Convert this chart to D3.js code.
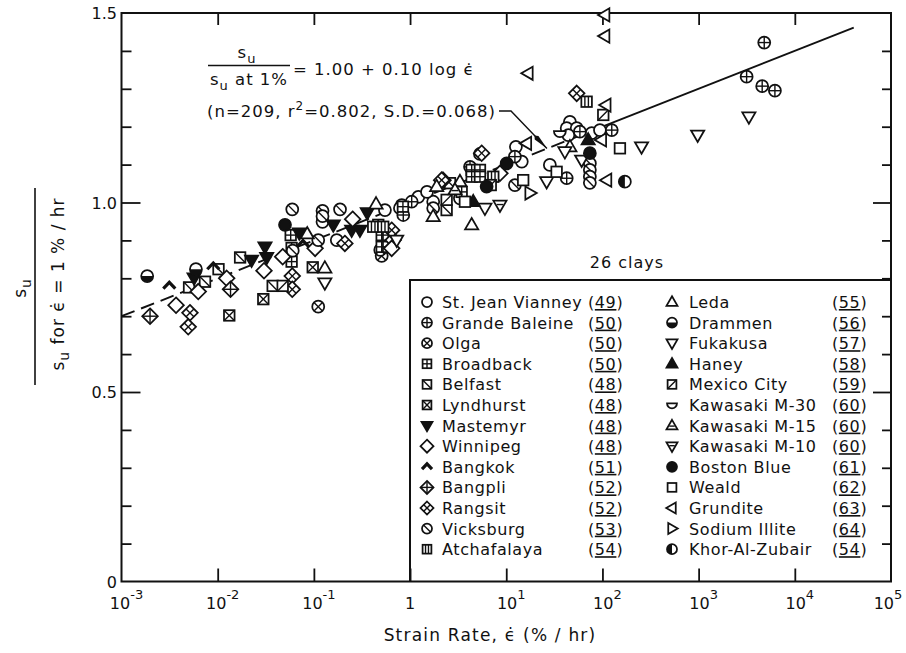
<!DOCTYPE html>
<html>
<head>
<meta charset="utf-8">
<script src="https://cdn.jsdelivr.net/npm/d3@7"></script>
<style>
  html, body { margin: 0; padding: 0; background: #fff; }
  svg { display: block; font-family: "DejaVu Sans", sans-serif; }
</style>
</head>
<body>
<svg id="chart" width="906" height="653"></svg>
<script>
// ---- axis ticks ----
const xTicks = [1e-3, 1e-2, 1e-1, 1, 1e1, 1e2, 1e3, 1e4, 1e5];
const xTickExponents = ["-3", "-2", "-1", "", "1", "2", "3", "4", "5"];
const yMajorTicks = [0, 0.5, 1.0, 1.5];
const yMajorLabels = ["0", "0.5", "1.0", "1.5"];
const yMinorTicks = [0.1, 0.2, 0.3, 0.4, 0.6, 0.7, 0.8, 0.9, 1.1, 1.2, 1.3, 1.4];

// ---- regression: su / su(1%) = a + b log(rate) ----
const fitIntercept = 1.00;
const fitSlope = 0.10;
const fitStart = 1e-3;
const fitDashEnd = 1e2;
const fitEnd = 4.1e4;

// ---- measurements: [strain rate (%/hr), su / su at 1%/hr] ----
const stJeanVianney = [[0.173,0.901],[0.123,0.949],[0.82,0.993],[1.22,1.015],[1.74,1.002],[3.3,1.011],[12.6,1.147],[14.5,1.108],[28.4,1.099],[45.9,1.213],[42.5,1.196],[54,1.196],[44.2,1.178],[77.3,1.183],[94.2,1.191],[0.548,0.980],[0.785,0.985],[1.5,1.028]];
const grandeBaleine = [[1.04,1.002],[0.85,0.967],[4.2,1.094],[5.33,1.128],[12.3,1.121],[58.3,1.187],[125,1.191],[42.5,1.064],[4810,1.422],[3155,1.332],[4580,1.307],[6210,1.295]];
const olga = [[0.111,0.725],[0.507,0.859],[0.49,0.875]];
const broadback = [[0.0574,0.914],[0.0587,0.844],[0.0587,0.88],[0.467,0.941],[0.507,0.914],[0.593,0.914],[0.507,0.883],[0.593,0.883],[0.843,0.989],[3.44,1.028],[4.37,1.086],[5.33,1.086],[4.37,1.068],[5.33,1.068]];
const belfast = [[0.00504,0.776],[0.00738,0.791],[0.0102,0.824],[0.0171,0.855],[0.0373,0.780],[2.4,0.980],[2.6,1.051]];
const lyndhurst = [[0.0132,0.702],[0.0298,0.745],[0.0973,0.829]];
const mastemyr = [[0.00568,0.801],[0.0225,0.848],[0.031,0.883],[0.0323,0.855],[0.0705,0.920],[0.159,0.941],[0.247,0.927],[0.301,0.927],[0.359,0.973]];
const winnipeg = [[0.00369,0.729],[0.00628,0.765],[0.0124,0.800],[0.0303,0.820],[0.0474,0.857],[0.103,0.879],[0.253,0.956],[0.668,0.901],[0.644,0.879],[8.6,1.077],[2.2,1.059]];
const bangkok = [[0.00314,0.780],[0.009,0.831],[0.077,0.890]];
const bangpli = [[0.00198,0.700],[0.0136,0.771]];
const rangsit = [[0.00515,0.709],[0.00494,0.672],[0.0596,0.806],[0.0596,0.771],[0.21,0.892],[2.13,1.059],[5.55,1.130],[54,1.288],[0.644,0.927]];
const vicksburg = [[0.0596,0.982],[0.0603,0.873],[0.123,0.978],[0.123,0.964],[0.111,0.901],[0.187,0.982],[1.74,0.985],[74,1.103],[74,1.086],[74,1.068],[74,1.052],[12.3,1.046]];
const atchafalaya = [[0.414,0.936],[0.526,0.936],[7.33,1.068],[68.5,1.266]];
const leda = [[0.0853,0.917],[0.13,0.827],[0.443,0.996],[1.74,0.963],[3.3,1.055],[4.37,0.941],[1.89,1.042],[45.9,1.147]];
const drammen = [[0.00185,0.806],[0.00594,0.824]];
const fukakusa = [[0.13,0.788],[0.726,0.901],[6.0,0.985],[26.3,1.055],[60.8,1.112],[255,1.147],[977,1.178],[3330,1.226],[40.7,1.134]];
const haney = [[4.54,1.002],[71.1,1.165]];
const mexicoCity = [[0.0474,0.780],[2.4,1.007],[6.9,1.046],[102,1.231]];
const kawasakiM30 = [[36.1,1.183]];
const kawasakiM15 = [[2.93,1.033]];
const kawasakiM10 = [[8.6,0.993]];
const bostonBlue = [[0.0501,0.941],[10.1,1.103],[74,1.130],[6.25,1.042]];
const weald = [[3.72,1.002],[15,1.059],[33.4,1.081],[152,1.143]];
const grundite = [[106,1.495],[106,1.439],[16.9,1.341],[109,1.257],[16.3,1.156],[111,1.059],[98,1.165]];
const sodiumIllite = [[17.6,1.025]];
const khorAlZubair = [[171,1.055]];

// ---- legend entries: name, reference number ----
const clayNames = ["St. Jean Vianney","Grande Baleine","Olga","Broadback","Belfast","Lyndhurst","Mastemyr","Winnipeg","Bangkok","Bangpli","Rangsit","Vicksburg","Atchafalaya",
                   "Leda","Drammen","Fukakusa","Haney","Mexico City","Kawasaki M-30","Kawasaki M-15","Kawasaki M-10","Boston Blue","Weald","Grundite","Sodium Illite","Khor-Al-Zubair"];
const clayRefs = ["49","50","50","50","48","48","48","48","51","52","52","53","54",
                  "55","56","57","58","59","60","60","60","61","62","63","64","54"];
const clayData = [stJeanVianney, grandeBaleine, olga, broadback, belfast, lyndhurst, mastemyr, winnipeg, bangkok, bangpli, rangsit, vicksburg, atchafalaya,
                  leda, drammen, fukakusa, haney, mexicoCity, kawasakiM30, kawasakiM15, kawasakiM10, bostonBlue, weald, grundite, sodiumIllite, khorAlZubair];
// marker style per clay
const claySymbols = ["circle","circlePlus","circleX","squarePlus","squareBack","squareX","triDownFilled","diamond","caret","diamondPlus","diamondGrid","circleSlash","squareBars",
                     "triUp","circleHalfBottom","triDown","triUpFilled","squareFwd","bowl","triUpBar","triDownBar","dot","square","triLeft","triRight","circleHalfLeft"];

const ink = "#111";
const svg = d3.select("#chart");
const x = d3.scaleLog().domain([1e-3, 1e5]).range([121.5, 891]);
const y = d3.scaleLinear().domain([0, 1.5]).range([581.5, 13]);

// ---- frame and ticks ----
const axes = svg.append("g").attr("stroke", ink).attr("fill", "none");
axes.append("rect")
  .attr("x", x(1e-3)).attr("y", y(1.5))
  .attr("width", x(1e5) - x(1e-3)).attr("height", y(0) - y(1.5))
  .attr("stroke-width", 2);

function tickAxis(axis, transform, values, size) {
  const g = svg.append("g").attr("transform", transform)
    .call(axis.tickValues(values).tickSize(size).tickSizeOuter(0).tickFormat(""));
  g.select(".domain").remove();
  g.selectAll(".tick line").attr("stroke", ink).attr("stroke-width", 1.8);
  return g;
}
const innerX = xTicks.slice(1, -1);
tickAxis(d3.axisBottom(x), `translate(0,${y(0)})`, innerX, -13);
tickAxis(d3.axisTop(x), `translate(0,${y(1.5)})`, innerX, -12);
tickAxis(d3.axisLeft(y), `translate(${x(1e-3)},0)`, yMajorTicks.slice(1, -1), -19);
tickAxis(d3.axisLeft(y), `translate(${x(1e-3)},0)`, yMinorTicks, -10);
tickAxis(d3.axisRight(y), `translate(${x(1e5)},0)`, yMajorTicks.slice(1, -1), -18);
tickAxis(d3.axisRight(y), `translate(${x(1e5)},0)`, yMinorTicks, -9);

// x tick labels: powers of ten (the last one is kept inside the page)
const xl = svg.append("g").attr("fill", ink).attr("font-size", 16).attr("text-anchor", "middle");
xTicks.forEach((v, i) => {
  const shift = xTickExponents[i] === "" ? 0 : (i === xTicks.length - 1 ? -3 : 5);
  const t = xl.append("text").attr("x", x(v) + shift).attr("y", 609);
  if (xTickExponents[i] === "") { t.text("1"); return; }
  t.append("tspan").text("10");
  t.append("tspan").attr("dy", -10).attr("font-size", 13).text(xTickExponents[i]);
});
// y tick labels
const yl = svg.append("g").attr("fill", ink).attr("font-size", 16).attr("text-anchor", "end");
yMajorTicks.forEach((v, i) => {
  yl.append("text").attr("x", 117).attr("y", y(v) + 6).text(yMajorLabels[i]);
});

// axis title
const xt = svg.append("text").attr("x", 490).attr("y", 641).attr("text-anchor", "middle")
  .attr("font-size", 17).attr("letter-spacing", 1.2).attr("fill", ink);
xt.append("tspan").text("Strain Rate, ");
xt.append("tspan").text("\u03F5\u0307");
xt.append("tspan").text(" (% / hr)");

// y axis title as a rotated fraction
const yt = svg.append("g").attr("fill", ink).attr("font-size", 17).attr("letter-spacing", 1);
const num = yt.append("text").attr("transform", "translate(26,288) rotate(-90)").attr("text-anchor", "middle");
num.append("tspan").text("s");
num.append("tspan").attr("dy", 5).attr("font-size", 14).text("u");
yt.append("line").attr("x1", 35).attr("x2", 35).attr("y1", 188).attr("y2", 385)
  .attr("stroke", ink).attr("stroke-width", 1.6);
const den = yt.append("text").attr("transform", "translate(64,284) rotate(-90)").attr("text-anchor", "middle");
den.append("tspan").text("s");
den.append("tspan").attr("dy", 5).attr("font-size", 14).text("u");
den.append("tspan").attr("dy", -5).text(" for \u03F5\u0307 = 1 % / hr");

// ---- regression line ----
const fit = v => fitIntercept + fitSlope * Math.log10(v);
const fitLine = d3.line().x(d => x(d)).y(d => y(fit(d)));
svg.append("path").attr("d", fitLine([fitStart, fitDashEnd]))
  .attr("stroke", ink).attr("stroke-width", 1.9).attr("fill", "none").attr("stroke-dasharray", "14,7");
svg.append("path").attr("d", fitLine([fitDashEnd, fitEnd]))
  .attr("stroke", ink).attr("stroke-width", 1.9).attr("fill", "none");

// ---- marker shapes ----
function drawSymbol(g, kind, r) {
  const sw = 1.75;
  const shape = (tag, attrs) => { const e = g.append(tag); Object.entries(attrs).forEach(([k, v]) => e.attr(k, v)); return e; };
  const stroke = { stroke: ink, "stroke-width": sw };
  const line = (x1, y1, x2, y2) => shape("line", { x1, y1, x2, y2, stroke: ink, "stroke-width": 1.4 });
  const circ = (fill) => shape("circle", { r, fill, ...stroke });
  const sq = r * 0.88;
  const box = () => shape("rect", { x: -sq, y: -sq, width: 2 * sq, height: 2 * sq, fill: "#fff", ...stroke });
  const tri = (pts, fill) => shape("path", { d: "M" + pts.map(p => p.join(",")).join("L") + "Z", fill, ...stroke, "stroke-linejoin": "miter" });
  const up = [[0, -1.15 * r], [1.1 * r, 0.75 * r], [-1.1 * r, 0.75 * r]];
  const down = [[0, 1.15 * r], [1.1 * r, -0.75 * r], [-1.1 * r, -0.75 * r]];
  const dm = 1.3 * r;
  const diamond = () => tri([[0, -dm], [dm, 0], [0, dm], [-dm, 0]], "#fff");
  const d = r * 0.7;
  switch (kind) {
    case "circle": circ("#fff"); break;
    case "circlePlus": circ("#fff"); line(-r, 0, r, 0); line(0, -r, 0, r); break;
    case "circleX": circ("#fff"); line(-d, -d, d, d); line(-d, d, d, -d); break;
    case "circleSlash": circ("#fff"); line(-d, -d, d, d); break;
    case "circleHalfBottom":
      circ("#fff");
      shape("path", { d: `M${-r},0A${r},${r} 0 0 0 ${r},0Z`, fill: ink });
      break;
    case "circleHalfLeft":
      circ("#fff");
      shape("path", { d: `M0,${-r}A${r},${r} 0 0 0 0,${r}Z`, fill: ink });
      break;
    case "dot": circ(ink); break;
    case "square": box(); break;
    case "squarePlus": box(); line(-sq, 0, sq, 0); line(0, -sq, 0, sq); break;
    case "squareBack": box(); line(-sq, -sq, sq, sq); break;
    case "squareFwd": box(); line(-sq, sq, sq, -sq); break;
    case "squareX": box(); line(-sq, -sq, sq, sq); line(-sq, sq, sq, -sq); break;
    case "squareBars": box(); line(-sq / 3, -sq, -sq / 3, sq); line(sq / 3, -sq, sq / 3, sq); break;
    case "triUp": tri(up, "#fff"); break;
    case "triDown": tri(down, "#fff"); break;
    case "triUpFilled": tri(up, ink); break;
    case "triDownFilled": tri(down, ink); break;
    case "triUpBar": tri(up, "#fff"); line(-0.55 * r, 0.1 * r, 0.55 * r, 0.1 * r); break;
    case "triDownBar": tri(down, "#fff"); line(-0.55 * r, -0.1 * r, 0.55 * r, -0.1 * r); break;
    case "triLeft": tri([[-1.15 * r, 0], [0.75 * r, -1.1 * r], [0.75 * r, 1.1 * r]], "#fff"); break;
    case "triRight": tri([[1.15 * r, 0], [-0.75 * r, -1.1 * r], [-0.75 * r, 1.1 * r]], "#fff"); break;
    case "diamond": diamond(); break;
    case "diamondPlus": diamond(); line(-dm, 0, dm, 0); line(0, -dm, 0, dm); break;
    case "diamondGrid": diamond(); line(-dm / 2, -dm / 2, dm / 2, dm / 2); line(dm / 2, -dm / 2, -dm / 2, dm / 2); break;
    case "caret":
      shape("path", { d: `M${-r},${0.45 * r}L0,${-0.6 * r}L${r},${0.45 * r}`, fill: "none", stroke: ink, "stroke-width": 3.2, "stroke-linejoin": "miter" });
      break;
    case "bowl":
      shape("path", { d: `M${-r},${-0.35 * r}H${r}A${r},${r} 0 0 1 ${-r},${-0.35 * r}Z`, fill: "#fff", ...stroke });
      break;
  }
}

// ---- data points ----
const pts = svg.append("g");
clayData.forEach((rows, i) => {
  rows.forEach(([rate, ratio]) => {
    const g = pts.append("g").attr("transform", `translate(${x(rate)},${y(ratio)})`);
    drawSymbol(g, claySymbols[i], 6);
  });
});

// ---- regression equation and statistics ----
const ann = svg.append("g").attr("fill", ink).attr("font-size", 16.5).attr("letter-spacing", 1);
const fn = ann.append("text").attr("x", 247).attr("y", 58).attr("text-anchor", "middle");
fn.append("tspan").text("s");
fn.append("tspan").attr("dy", 5).attr("font-size", 13).text("u");
ann.append("line").attr("x1", 208).attr("x2", 290).attr("y1", 65.5).attr("y2", 65.5)
  .attr("stroke", ink).attr("stroke-width", 1.6);
const fd = ann.append("text").attr("x", 249).attr("y", 85).attr("text-anchor", "middle");
fd.append("tspan").text("s");
fd.append("tspan").attr("dy", 5).attr("font-size", 13).text("u");
fd.append("tspan").attr("dy", -5).text(" at 1%");
ann.append("text").attr("x", 293).attr("y", 75).text("= 1.00 + 0.10 log \u03F5\u0307");
const st = ann.append("text").attr("x", 207).attr("y", 117);
st.append("tspan").text("(n=209, r");
st.append("tspan").attr("dy", -7).attr("font-size", 12).text("2");
st.append("tspan").attr("dy", 7).text("=0.802, S.D.=0.068)");

// leader arrow onto the fitted line
const tipRate = 26.5;
const tip = [x(tipRate), y(fit(tipRate))];
const bend = [511, 111];
svg.append("path").attr("d", d3.line()([[499, 111], bend, tip]))
  .attr("stroke", ink).attr("stroke-width", 1.4).attr("fill", "none");
{
  const dx = tip[0] - bend[0], dy = tip[1] - bend[1], L = Math.hypot(dx, dy);
  const ux = dx / L, uy = dy / L, px = -uy, py = ux, len = 15, w = 2.6;
  const bx = tip[0] - ux * len, by = tip[1] - uy * len;
  svg.append("path")
    .attr("d", `M${tip[0]},${tip[1]}L${bx + px * w},${by + py * w}L${bx - ux * 3},${by - uy * 3}L${bx - px * w},${by - py * w}Z`)
    .attr("fill", ink);
}

// ---- legend ----
svg.append("text").attr("x", 627).attr("y", 268).attr("text-anchor", "middle")
  .attr("font-size", 16).attr("letter-spacing", 1).attr("fill", ink).text("26 clays");
svg.append("path").attr("d", `M410,${y(0)}V280H${x(1e5)}`)
  .attr("stroke", ink).attr("stroke-width", 2).attr("fill", "none");

const lg = svg.append("g").attr("font-size", 16).attr("letter-spacing", 0.6).attr("fill", ink);
const colX = [{ sym: 427, name: 442, ref: 588 }, { sym: 672, name: 689, ref: 832 }];
clayNames.forEach((name, i) => {
  const col = colX[Math.floor(i / 13)], row = i % 13;
  const cy = 302 + row * 20.6;
  drawSymbol(lg.append("g").attr("transform", `translate(${col.sym},${cy})`), claySymbols[i], 5);
  lg.append("text").attr("x", col.name).attr("y", cy + 6).text(name);
  const rt = lg.append("text").attr("x", col.ref).attr("y", cy + 6);
  rt.append("tspan").text("(");
  rt.append("tspan").attr("text-decoration", "underline").text(clayRefs[i]);
  rt.append("tspan").text(")");
});
</script>
</body>
</html>
